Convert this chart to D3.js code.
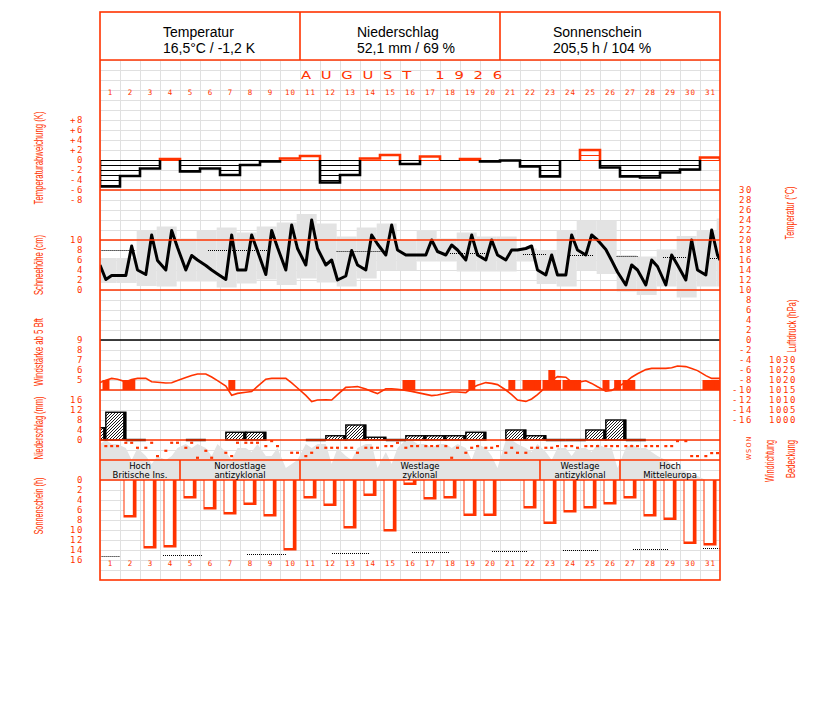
<!DOCTYPE html>
<html><head><meta charset="utf-8">
<script src="https://cdn.jsdelivr.net/npm/d3@7/dist/d3.min.js"></script>
<style>
html,body{margin:0;padding:0;background:#fff;}
svg{display:block;}
</style></head>
<body>
<svg id="chart" width="827" height="702"></svg>
<script>
// ================= DATA =================
const days = d3.range(1, 32);
const headerTitles = ["Temperatur", "Niederschlag", "Sonnenschein"];
const headerValues = ["16,5°C / -1,2 K", "52,1 mm / 69 %", "205,5 h / 104 %"];
const monthTitle = "AUGUST  1926";
const obsHours = [7, 14, 21];

// daily temperature deviation (K)
const tempDev = [-5.3,-3.2,-1.7,0.2,-2.3,-1.7,-3.0,-1.0,-0.3,0.3,0.8,-4.5,-3.0,0.3,1.0,-0.8,0.7,0,0.2,-0.3,-0.1,-1.3,-3.3,0,2.0,-1.5,-3.3,-3.5,-2.5,-1.9,0.5];
const devTicks = [8,6,4,2,0,-2,-4,-6,-8];

// temperature readings (°C) at 7, 14, 21 h
const tempStart = 15.0, tempEnd = 16.0;
const temp07 = [12.1,12.9,13.1,14.0,14.0,14.9,12.1,14.0,13.1,14.0,15.0,15.0,12.8,14.0,17.0,17.0,17.0,17.0,16.0,16.0,16.0,18.3,13.0,13.0,17.0,18.1,11.0,11.0,11.0,12.0,13.0];
const temp14 = [12.9,18.8,21.0,21.9,16.9,14.0,21.0,21.0,21.9,23.0,24.0,16.0,17.9,21.0,23.0,17.0,20.0,19.0,21.0,20.0,18.0,18.8,17.0,21.0,21.0,15.9,15.0,16.0,17.0,20.0,22.0];
const temp21 = [12.9,14.0,15.9,18.5,16.0,13.2,14.0,17.8,18.5,18.3,18.3,12.0,15.0,19.2,18.0,17.0,17.7,18.0,17.0,17.0,18.0,14.0,13.0,18.0,20.0,13.6,14.0,14.7,15.0,14.0,17.0];
// grey range band (°C), one per day (+ start of next month)
const bandHigh = [16.4,16.4,21.9,22.7,20.3,21.9,22.5,21.5,22.7,23.5,25.2,23.3,20.7,22.5,23.3,20.0,22.0,20.3,21.5,20.7,20.7,18.3,18.0,21.9,23.9,23.9,17.0,16.7,18.1,20.8,21.9,24.3];
const bandLow  = [11.4,11.4,10.8,10.7,11.7,11.7,10.5,11.3,12.1,11.0,12.3,11.5,10.7,12.3,14.0,14.0,15.7,15.7,13.7,13.7,13.7,15.7,11.2,10.7,14.0,13.2,9.7,9.0,10.7,8.5,10.7,10.7];
// normal temperature (dotted), segments in day units
const normTempFrom = [0.08,5.4,11.83,17.5,21.15,23.5,25.83,28.15,30.5];
const normTempTo   = [1.75,8.4,14.17,19.33,22.35,24.65,26.92,29.35,31.0];
const normTempVal  = [18.1,18.0,17.7,17.5,17.3,17.1,16.9,16.7,16.5];
const tempTicks = d3.range(30, -17, -2);
const snowTicks = [10,8,6,4,2,0];

// wind force >= 5 Bft: day, observation index (0=7h,1=14h,2=21h), force
const windDay = [1,2,2,7,16,16,19,21,22,22,22,23,23,23,24,24,24,26,26,27,27,31,31,31];
const windObs = [0,0,1,1,0,1,1,1,0,1,2,0,1,2,0,1,2,0,2,0,1,0,1,2];
const windBft = [5,5,5,5,5,5,5,5,5,5,5,5,6,5,5,5,5,5,5,5,5,5,5,5];
const windTicks = [9,8,7,6,5];

// air pressure (hPa) at 7, 14, 21 h
const pressStart = 1018.7, pressEnd = 1020.8;
const press07 = [1019.9,1019.1,1020.8,1018.5,1021.2,1023.0,1017.0,1013.9,1020.4,1020.8,1012.3,1010.1,1016.3,1015.5,1015.6,1014.8,1012.8,1013.4,1013.7,1018.7,1015.0,1009.3,1016.5,1021.4,1019.6,1014.4,1018.9,1025.2,1025.8,1026.7,1022.2];
const press14 = [1020.8,1020.2,1019.1,1018.6,1022.2,1021.5,1012.4,1014.2,1020.8,1018.6,1009.2,1010.0,1016.5,1014.2,1015.6,1014.3,1012.2,1014.0,1016.0,1018.3,1012.7,1010.5,1019.8,1019.0,1018.3,1014.8,1021.4,1025.8,1026.1,1025.8,1020.8];
const press21 = [1020.4,1020.8,1018.9,1019.7,1023.0,1019.7,1013.3,1016.8,1020.8,1016.0,1010.0,1012.7,1016.7,1013.2,1015.4,1013.7,1012.5,1014.0,1017.4,1017.7,1010.0,1012.7,1021.7,1018.8,1016.6,1016.5,1023.1,1025.8,1027.0,1024.7,1020.8];
const pressTicks = [1030,1025,1020,1015,1010,1005,1000];

// precipitation (mm), measured 7h to 7h next day; 0.1 = trace
const precipPrev = 4.9;
const precip = [11.1,0.1,0,0,0.1,0,3.1,3.1,0,0,0.1,1.7,6.0,1.1,0.1,1.7,1.7,1.7,3.1,0,4.0,1.7,0.1,0.1,4.0,8.0,0.1,0,0,0,0];
const precipTicks = [16,12,8,4,0];

// wind direction (degrees) at 7,14,21 h  (null = calm)
const dir07 = [105,55,130,175,130,175,205,55,105,null,255,130,130,130,105,130,105,105,205,130,205,205,130,105,105,105,105,105,105,30,255];
const dir14 = [105,55,55,55,55,280,255,55,30,205,205,130,130,130,105,105,105,280,130,130,130,130,130,105,105,105,105,105,105,255,210];
const dir21 = [105,130,255,55,280,null,55,55,105,205,130,130,205,130,55,105,105,130,105,105,205,130,105,130,105,105,105,105,30,255,210];
const dirLabels = ["N","O","S","W"];
const dirLabelDeg = [0,90,180,270];

// cloud cover (tenths) at 7,14,21 h
const cloudStart = 9;
const cloud07 = [10,8,6,5,9,8,7,8,6,3,9,9,6,9,7,10,9,9,8,8,10,8,7,8,8,8,8,8,5,2,0];
const cloud14 = [9,5,4,6,8,6,5,7,6,4,8,4,5,9,4,10,8,8,5,6,10,7,5,6,7,8,9,7,4,1,0];
const cloud21 = [9,8,6,8,9,9,8,9,8,5,9,8,8,3,8,9,9,9,9,3,9,9,8,8,9,3,8,6,3,1,0];
const cloudEnd = 0;

// weather types
const wtFrom = [1,5,11,23,27];
const wtTo   = [4,10,22,26,31];
const wtLine1 = ["Hoch","Nordostlage","Westlage","Westlage","Hoch"];
const wtLine2 = ["Britische Ins.","antizyklonal","zyklonal","antizyklonal","Mitteleuropa"];

// sunshine duration (h)
const sunHours = [0,7.5,13.7,13.5,3.7,5.9,6.9,5.0,7.3,14.1,3.7,5.2,9.7,3.2,10.3,1.0,3.9,3.7,7.2,7.2,0,5.7,8.8,6.5,5.7,4.9,3.7,7.3,8.0,12.8,13.1];
const sunTicks = [0,2,4,6,8,10,12,14,16];
// possible sunshine duration (dotted), segments in day units
const possSunFrom = [0.08,3.15,7.35,11.6,15.6,19.6,23.15,26.65,30.15];
const possSunTo   = [1.0,5.15,9.35,13.5,17.5,21.4,24.9,28.4,31.0];
const possSunVal  = [15.2,15.0,14.8,14.5,14.3,14.1,14.0,13.8,13.6];

// ================= DRAWING =================
const svg = d3.select('#chart');
const RED = '#ff3300', GRID = '#e0e0e0', BAND = '#e3e3e3';
const L = 100, R = 720, TOP = 12, BOT = 580;
const x = d3.scaleLinear().domain([0, 31]).range([L, R]);
const tObs = (d, k) => d - 1 + obsHours[k] / 24;

const yDev = d3.scaleLinear().domain([-8, 8]).range([200, 120]);
const yT = d3.scaleLinear().domain([-16, 30]).range([420, 190]);
const ySnow = d3.scaleLinear().domain([0, 10]).range([290, 240]);
const yWind = d3.scaleLinear().domain([4, 9]).range([390, 340]);
const yP = d3.scaleLinear().domain([1000, 1030]).range([420, 360]);
const yPr = d3.scaleLinear().domain([0, 16]).range([440, 400]);
const yDir = d3.scaleLinear().domain([0, 360]).range([439, 463]);
const yCl = d3.scaleLinear().domain([0, 10]).range([480, 440]);
const ySun = d3.scaleLinear().domain([0, 16]).range([480, 560]);

const defs = svg.append('defs');
defs.append('clipPath').attr('id', 'plotClip').append('rect')
  .attr('x', L).attr('y', 60).attr('width', R - L).attr('height', BOT - 60);
function hLines(id, color) {
  const p = defs.append('pattern').attr('id', id).attr('patternUnits', 'userSpaceOnUse')
    .attr('width', 20).attr('height', 5);
  p.append('rect').attr('x', 0).attr('y', 0).attr('width', 20).attr('height', 1).attr('fill', color);
}
hLines('hlBlack', '#000');
hLines('hlRed', RED);
const hp = defs.append('pattern').attr('id', 'hatch').attr('patternUnits', 'userSpaceOnUse')
  .attr('width', 3).attr('height', 3);
hp.append('rect').attr('width', 3).attr('height', 3).attr('fill', '#fff');
hp.append('path').attr('d', 'M-1,1 l2,-2 M0,3 l3,-3 M2,4 l2,-2').attr('stroke', '#000').attr('stroke-width', 0.9);

svg.append('rect').attr('width', 827).attr('height', 702).attr('fill', '#fff');

const plot = svg.append('g').attr('clip-path', 'url(#plotClip)');

// ---- grid ----
const grid = plot.append('g');
grid.selectAll('line.v').data(d3.range(0, 32)).join('line')
  .attr('x1', d => x(d) + 0.5).attr('x2', d => x(d) + 0.5)
  .attr('y1', 60).attr('y2', BOT).attr('stroke', GRID).attr('stroke-width', 1);
grid.selectAll('line.h').data(d3.range(60, BOT + 1, 10)).join('line')
  .attr('x1', L).attr('x2', R).attr('y1', d => d + 0.5).attr('y2', d => d + 0.5)
  .attr('stroke', GRID).attr('stroke-width', 1);

// ---- temperature range band ----
plot.append('g').selectAll('rect').data(bandHigh.map((h, i) => ({ i, h, l: bandLow[i] }))).join('rect')
  .attr('x', d => x(d.i - 1 / 6)).attr('width', x(1) - x(0))
  .attr('y', d => yT(d.h)).attr('height', d => yT(d.l) - yT(d.h))
  .attr('fill', BAND);

// ---- cloud cover area ----
const cloudPts = [{ t: 0, v: cloudStart }];
days.forEach((d, i) => {
  cloudPts.push({ t: tObs(d, 0), v: cloud07[i] });
  cloudPts.push({ t: tObs(d, 1), v: cloud14[i] });
  cloudPts.push({ t: tObs(d, 2), v: cloud21[i] });
});
cloudPts.push({ t: 31, v: cloudEnd });
plot.append('path').datum(cloudPts)
  .attr('d', d3.area().x(p => x(p.t)).y0(yCl(0)).y1(p => yCl(p.v)))
  .attr('fill', BAND);

// ---- normal temperature (dotted) ----
plot.append('g').selectAll('line').data(normTempVal.map((v, i) => ({ v, a: normTempFrom[i], b: normTempTo[i] }))).join('line')
  .attr('x1', d => x(d.a)).attr('x2', d => x(d.b))
  .attr('y1', d => Math.round(yT(d.v)) + 0.5).attr('y2', d => Math.round(yT(d.v)) + 0.5)
  .attr('stroke', '#000').attr('stroke-width', 1).attr('stroke-dasharray', '1,1');

// ---- possible sunshine (dotted) ----
plot.append('g').selectAll('line').data(possSunVal.map((v, i) => ({ v, a: possSunFrom[i], b: possSunTo[i] }))).join('line')
  .attr('x1', d => x(d.a)).attr('x2', d => x(d.b))
  .attr('y1', d => Math.round(ySun(d.v)) + 0.5).attr('y2', d => Math.round(ySun(d.v)) + 0.5)
  .attr('stroke', '#000').attr('stroke-width', 1).attr('stroke-dasharray', '1,1');

// ---- panel separator lines ----
const redLines = [60, 190, 240, 290, 390, 440, 460, 480];
svg.append('g').selectAll('line').data(redLines).join('line')
  .attr('x1', L).attr('x2', R).attr('y1', d => d).attr('y2', d => d)
  .attr('stroke', RED).attr('stroke-width', 1.6);
svg.append('line').attr('x1', L).attr('x2', R).attr('y1', yWind(9)).attr('y2', yWind(9))
  .attr('stroke', '#000').attr('stroke-width', 1.4);

// ---- temperature deviation bars ----
const devG = plot.append('g');
const y0d = yDev(0);
devG.append('line').attr('x1', L).attr('x2', R).attr('y1', y0d + 0.5).attr('y2', y0d + 0.5)
  .attr('stroke', '#000').attr('stroke-width', 1);
devG.selectAll('rect').data(tempDev.map((v, i) => ({ v, i })).filter(d => d.v !== 0)).join('rect')
  .attr('x', d => x(d.i)).attr('width', x(1) - x(0))
  .attr('y', d => Math.min(yDev(d.v), y0d)).attr('height', d => Math.abs(yDev(d.v) - y0d) + 1)
  .attr('fill', d => d.v < 0 ? 'url(#hlBlack)' : 'url(#hlRed)');
(function () {
  let i = 0;
  while (i < tempDev.length) {
    const s = Math.sign(tempDev[i]);
    if (s === 0) { i++; continue; }
    let j = i;
    const p = d3.path();
    p.moveTo(x(i), y0d);
    while (j < tempDev.length && Math.sign(tempDev[j]) === s) {
      p.lineTo(x(j), yDev(tempDev[j]));
      p.lineTo(x(j + 1), yDev(tempDev[j]));
      j++;
    }
    p.lineTo(x(j), y0d);
    devG.append('path').attr('d', p.toString()).attr('fill', 'none')
      .attr('stroke', s < 0 ? '#000' : RED).attr('stroke-width', 2.6).attr('stroke-linejoin', 'miter');
    i = j;
  }
})();

// ---- temperature line ----
const tempPts = [{ t: 0, v: tempStart }];
days.forEach((d, i) => {
  tempPts.push({ t: tObs(d, 0), v: temp07[i] });
  tempPts.push({ t: tObs(d, 1), v: temp14[i] });
  tempPts.push({ t: tObs(d, 2), v: temp21[i] });
});
tempPts.push({ t: 31, v: tempEnd });
plot.append('path').datum(tempPts)
  .attr('d', d3.line().x(p => x(p.t)).y(p => yT(p.v)))
  .attr('fill', 'none').attr('stroke', '#000').attr('stroke-width', 3).attr('stroke-linejoin', 'round');

// ---- wind force bars ----
const obsW = (x(1) - x(0)) / 3;
plot.append('g').selectAll('rect').data(windDay.map((d, i) => ({ t: tObs(d, windObs[i]), b: windBft[i] }))).join('rect')
  .attr('x', d => x(d.t) - obsW / 2).attr('width', obsW + 0.3)
  .attr('y', d => yWind(d.b)).attr('height', d => yWind(4) - yWind(d.b))
  .attr('fill', RED);

// ---- pressure line ----
const pressPts = [{ t: 0, v: pressStart }];
days.forEach((d, i) => {
  pressPts.push({ t: tObs(d, 0), v: press07[i] });
  pressPts.push({ t: tObs(d, 1), v: press14[i] });
  pressPts.push({ t: tObs(d, 2), v: press21[i] });
});
pressPts.push({ t: 31, v: pressEnd });
plot.append('path').datum(pressPts)
  .attr('d', d3.line().x(p => x(p.t)).y(p => yP(p.v)))
  .attr('fill', 'none').attr('stroke', RED).attr('stroke-width', 1.6);

// ---- precipitation ----
const prG = plot.append('g');
const prData = [{ a: -17 / 24, v: precipPrev }].concat(precip.map((v, i) => ({ a: i + 7 / 24, v })));
prData.forEach(d => {
  if (d.v <= 0) return;
  const x0 = x(d.a), x1 = x(d.a + 1);
  if (d.v < 0.5) {
    prG.append('line').attr('x1', x0).attr('x2', x1).attr('y1', yPr(0)).attr('y2', yPr(0))
      .attr('stroke', '#000').attr('stroke-width', 2.4);
    return;
  }
  prG.append('rect').attr('x', x0).attr('width', x1 - x0).attr('y', yPr(d.v)).attr('height', yPr(0) - yPr(d.v))
    .attr('fill', 'url(#hatch)').attr('stroke', '#000').attr('stroke-width', 1.4);
  prG.append('line').attr('x1', x1 - 1.2).attr('x2', x1 - 1.2).attr('y1', yPr(d.v)).attr('y2', yPr(0))
    .attr('stroke', '#000').attr('stroke-width', 3);
});

// ---- wind direction dots ----
const dirPts = [];
days.forEach((d, i) => {
  [dir07[i], dir14[i], dir21[i]].forEach((v, k) => { if (v !== null) dirPts.push({ t: tObs(d, k), v }); });
});
plot.append('g').selectAll('rect').data(dirPts).join('rect')
  .attr('x', d => x(d.t) - 1.5).attr('y', d => yDir(d.v) - 1)
  .attr('width', 3).attr('height', 2.2).attr('fill', RED);

// ---- weather types ----
const wtG = svg.append('g');
wtG.selectAll('line').data(wtFrom.slice(1)).join('line')
  .attr('x1', d => x(d - 1)).attr('x2', d => x(d - 1)).attr('y1', 460).attr('y2', 480)
  .attr('stroke', RED).attr('stroke-width', 1.6);
const wtText = wtG.selectAll('text').data(wtFrom.map((f, i) => ({ c: (x(f - 1) + x(wtTo[i])) / 2, a: wtLine1[i], b: wtLine2[i] }))).join('text')
  .attr('x', d => d.c).attr('text-anchor', 'middle')
  .style('font-family', '"DejaVu Sans", Verdana, sans-serif').style('font-size', '8.5px').attr('fill', '#000');
wtText.append('tspan').attr('x', d => d.c).attr('y', 469).text(d => d.a);
wtText.append('tspan').attr('x', d => d.c).attr('y', 477.5).text(d => d.b);

// ---- sunshine bars ----
const sunG = plot.append('g');
sunHours.forEach((v, i) => {
  if (v <= 0) return;
  const c = x(i + 0.5);
  sunG.append('rect').attr('x', c - 6.5).attr('width', 13).attr('y', ySun(0)).attr('height', ySun(v) - ySun(0)).attr('fill', RED);
  sunG.append('rect').attr('x', c - 5.5).attr('width', 8.3).attr('y', ySun(0)).attr('height', Math.max(0, ySun(v) - ySun(0) - 2.5)).attr('fill', '#fff');
});

// ---- frame & header ----
svg.append('rect').attr('x', L).attr('y', TOP).attr('width', R - L).attr('height', BOT - TOP)
  .attr('fill', 'none').attr('stroke', RED).attr('stroke-width', 1.6);
svg.append('g').selectAll('line').data([300, 500]).join('line')
  .attr('x1', d => d).attr('x2', d => d).attr('y1', TOP).attr('y2', 60)
  .attr('stroke', RED).attr('stroke-width', 1.6);
const hx = [163, 357, 553];
svg.append('g').selectAll('text').data(headerTitles).join('text')
  .attr('x', (d, i) => hx[i]).attr('y', 37).text(d => d)
  .style('font-family', '"Liberation Sans", Arial, sans-serif').style('font-size', '14px').attr('fill', '#000');
svg.append('g').selectAll('text').data(headerValues).join('text')
  .attr('x', (d, i) => hx[i]).attr('y', 53).text(d => d)
  .style('font-family', '"Liberation Sans", Arial, sans-serif').style('font-size', '14px').attr('fill', '#000');
svg.append('text').attr('transform', 'translate(301,79) scale(1.35,0.95)').text(monthTitle)
  .attr('textLength', 149).attr('lengthAdjust', 'spacing')
  .style('font-family', '"DejaVu Sans", sans-serif').style('font-size', '11px').attr('fill', RED);

// ---- day labels ----
const dayAxis = d3.axisBottom(x).tickValues(days.map(d => d - 0.5)).tickFormat(d => String(d + 0.5)).tickSize(0).tickPadding(0);
[91, 562].forEach(yy => {
  const a = svg.append('g').attr('transform', `translate(0,${yy})`).call(dayAxis);
  a.select('.domain').remove();
  a.selectAll('text').attr('fill', RED).attr('dy', '0.5em')
    .style('font-family', '"DejaVu Sans Mono", monospace').style('font-size', '7.5px').style('letter-spacing', '1px');
});

// ---- value axes ----
function axisL(xPos, scale, values, fmt) {
  const a = svg.append('g').attr('transform', `translate(${xPos},0)`)
    .call(d3.axisLeft(scale).tickValues(values).tickFormat(fmt).tickSize(0).tickPadding(0));
  a.select('.domain').remove();
  a.selectAll('text').attr('fill', RED)
    .style('font-family', '"DejaVu Sans Mono", monospace').style('font-size', '9px').style('letter-spacing', '1.6px');
  return a;
}
axisL(84, yDev, devTicks, d => d > 0 ? '+' + d : String(d));
axisL(84, ySnow, snowTicks, d => String(d));
axisL(84, yWind, windTicks, d => String(d));
axisL(84, yPr, precipTicks, d => String(d));
axisL(84, ySun, sunTicks, d => String(d));
axisL(753, yT, tempTicks, d => String(d));
axisL(797, yP, pressTicks, d => String(d));

// wind direction letters
svg.append('g').selectAll('text').data(dirLabels).join('text')
  .attr('transform', (d, i) => `translate(751,${yDir(dirLabelDeg[i])}) rotate(-90)`)
  .attr('text-anchor', 'middle').text(d => d)
  .style('font-family', '"DejaVu Sans", sans-serif').style('font-size', '6.5px').attr('fill', RED);

// ---- rotated titles ----
const titles = [
  { t: 'Temperaturabweichung (K)', x: 43, y: 158, len: 93 },
  { t: 'Schneehöhe (cm)', x: 43, y: 265, len: 60 },
  { t: 'Windstärke ab 5 Bft', x: 43, y: 352, len: 68 },
  { t: 'Niederschlag (mm)', x: 43, y: 428, len: 63 },
  { t: 'Sonnenschein (h)', x: 43, y: 506, len: 57 },
  { t: 'Temperatur (°C)', x: 794, y: 213, len: 53 },
  { t: 'Luftdruck (hPa)', x: 796, y: 326, len: 53 },
  { t: 'Windrichtung', x: 774, y: 461, len: 42 },
  { t: 'Bedeckung', x: 795, y: 459, len: 38 }
];
svg.append('g').selectAll('text').data(titles).join('text')
  .attr('transform', d => `translate(${d.x},${d.y}) rotate(-90)`)
  .attr('text-anchor', 'middle').attr('textLength', d => d.len).attr('lengthAdjust', 'spacingAndGlyphs')
  .text(d => d.t)
  .style('font-family', '"Liberation Sans Narrow", "Liberation Sans", sans-serif').style('font-size', '13px').attr('fill', RED);
</script>
</body></html>
